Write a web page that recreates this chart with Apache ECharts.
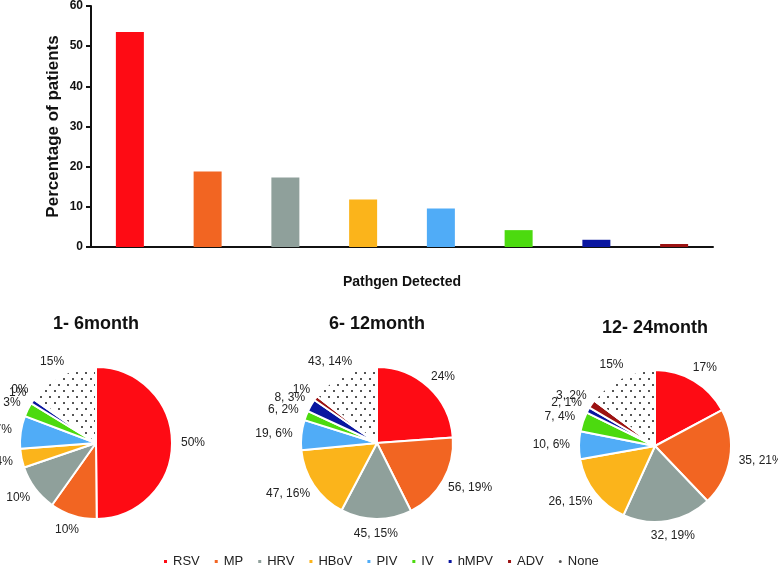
<!DOCTYPE html>
<html>
<head>
<meta charset="utf-8">
<script src="https://cdn.jsdelivr.net/npm/echarts@6/dist/echarts.min.js"></script>
<style>
html, body { margin: 0; padding: 0; background: #fff; }
#main { width: 778px; height: 567px; }
</style>
</head>
<body>
<div id="main"></div>
<script>
// bar chart: percentage of patients per pathogen
var pathogens = ['RSV', 'MP', 'HRV', 'HBoV', 'PIV', 'IV', 'hMPV', 'ADV'];
var detected = [53.5, 18.8, 17.3, 11.8, 9.6, 4.2, 1.8, 0.75];

// pies: counts per age group (1-6 month only given as percentages)
var ageGroups = ['1- 6month', '6- 12month', '12- 24month'];
var slices = ['RSV', 'MP', 'HRV', 'HBoV', 'PIV', 'IV', 'hMPV', 'ADV', 'None'];
var month1to6 = [50, 10, 10, 4, 7, 3, 1, 0.3, 15];
var month6to12 = [71, 56, 45, 47, 19, 6, 8, 3, 43];
var month12to24 = [29, 35, 32, 26, 10, 7, 2, 3, 25];
// which labels also show the count
var count1to6 = [false, false, false, false, false, false, false, false, false];
var count6to12 = [false, true, true, true, true, true, true, false, true];
var count12to24 = [false, true, true, true, true, true, true, true, false];

var colors = ['#fe0b14', '#f26522', '#8fa09b', '#fbb41b', '#50acf7', '#4cda0f', '#0a16a0', '#9c1212', '#ffffff'];

var myChart = echarts.init(document.getElementById('main'));

var pieCenters = [[96, 443], [377, 443], [655, 446]];
var pieRadius = 76;
var labelGap = 9;
var pieData = [month1to6, month6to12, month12to24];
var pieCounts = [count1to6, count6to12, count12to24];

// mid angle of every slice, clockwise from 12 o'clock
function midAngles(values) {
	var total = 0, cum = 0, out = [];
	values.forEach(function(v) { total += v; });
	values.forEach(function(v) {
		out.push(2 * Math.PI * (cum + v / 2) / total);
		cum += v;
	});
	return out;
}

function makePie(idx) {
	var shown = pieCounts[idx];
	var angles = midAngles(pieData[idx]);
	var c = pieCenters[idx];
	return {
		type: 'pie',
		center: c,
		radius: pieRadius,
		startAngle: 90,
		clockwise: true,
		avoidLabelOverlap: false,
		label: {
			position: 'outside',
			fontSize: 12,
			color: '#222',
			fontFamily: 'Liberation Sans',
			formatter: function(p) {
				var pct = Math.round(p.percent) + '%';
				return shown[p.dataIndex] ? p.value + ', ' + pct : pct;
			}
		},
		labelLine: { show: false, length: 5, length2: 0 },
		// excel style: label box pushed just outside the rim
		labelLayout: function(p) {
			var a = angles[p.dataIndex];
			var s = Math.sin(a), k = Math.cos(a);
			var R = pieRadius + labelGap;
			var w = p.labelRect.width, h = p.labelRect.height;
			return {
				x: c[0] + R * s + s * w / 2,
				y: c[1] - R * k - k * h / 2,
				align: 'center',
				verticalAlign: 'middle'
			};
		},
		itemStyle: { borderColor: '#fff', borderWidth: 2 },
		emphasis: { disabled: true },
		data: pieData[idx].map(function(v, i) {
			var item = { name: slices[i], value: v, itemStyle: { color: colors[i] } };
			if (slices[i] === 'None') {
				item.itemStyle.decal = {
					symbol: 'rect',
					symbolSize: 1,
					color: '#555',
					backgroundColor: '#fff',
					dashArrayX: [[1.5, 6.5], [0, 4, 1.5, 2.5]],
					dashArrayY: [1.5, 3.8]
				};
			}
			return item;
		})
	};
}

var option = {
	animation: false,
	textStyle: { fontFamily: 'Liberation Sans' },
	grid: { left: 91, right: 65, top: 6, bottom: 320 },
	xAxis: {
		type: 'category',
		data: pathogens,
		axisLine: { lineStyle: { color: '#111', width: 2 } },
		axisTick: { show: false },
		axisLabel: { show: false },
		name: 'Pathgen Detected',
		nameLocation: 'middle',
		nameGap: 28,
		nameTextStyle: { fontWeight: 'bold', fontSize: 14, color: '#111' }
	},
	yAxis: {
		type: 'value',
		min: 0,
		max: 60,
		interval: 10,
		axisLine: { show: true, lineStyle: { color: '#111', width: 2 } },
		axisTick: { show: true, length: 5, lineStyle: { color: '#111', width: 2 } },
		splitLine: { show: false },
		axisLabel: { fontWeight: 'bold', fontSize: 12, color: '#111', margin: 8 },
		name: 'Percentage of patients',
		nameLocation: 'middle',
		nameGap: 29,
		nameMoveOverlap: false,
		nameTextStyle: { fontWeight: 'bold', fontSize: 17, color: '#111' }
	},
	legend: {
		left: 157,
		top: 550,
		itemWidth: 5,
		itemHeight: 5,
		itemGap: 13,
		icon: 'rect',
		textStyle: { fontSize: 13, color: '#222' },
		data: slices.map(function(s) {
			if (s === 'None') return { name: s, icon: 'circle', itemStyle: { color: '#555', decal: 'none' } };
			return { name: s };
		})
	},
	graphic: ageGroups.map(function(g, i) {
		return {
			type: 'text',
			x: pieCenters[i][0],
			y: i === 2 ? 319 : 315,
			style: { text: g, textAlign: 'center', font: 'bold 18px Liberation Sans', fill: '#111' }
		};
	}),
	series: [{
		type: 'bar',
		barWidth: 28,
		emphasis: { disabled: true },
		data: detected.map(function(v, i) {
			return { value: v, itemStyle: { color: colors[i] } };
		})
	}].concat([0, 1, 2].map(makePie))
};

myChart.setOption(option);
</script>
</body>
</html>
